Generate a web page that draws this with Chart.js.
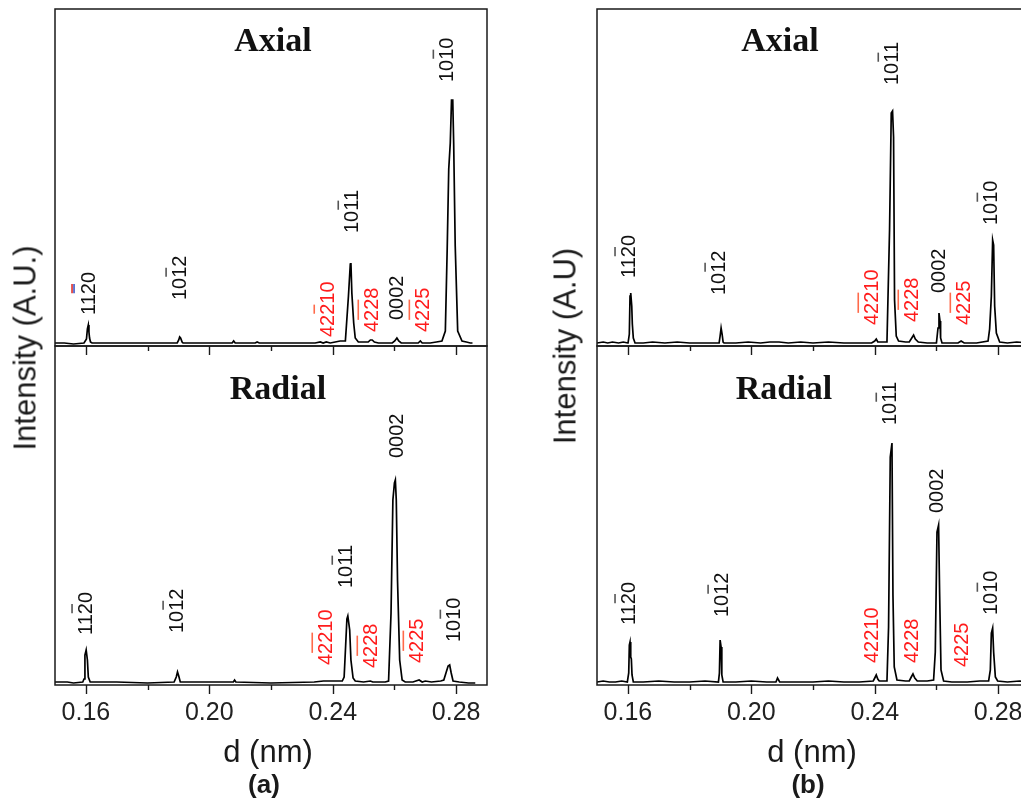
<!DOCTYPE html>
<html>
<head>
<meta charset="utf-8">
<title>XRD patterns – axial and radial</title>
<script src="https://cdn.jsdelivr.net/npm/chart.js@4.4.1/dist/chart.umd.min.js"></script>
<style>
  html, body { margin: 0; padding: 0; background: #fff; }
  #fig { position: relative; width: 1021px; height: 804px; overflow: hidden; background: #fff; }
  canvas { position: absolute; top: 0; }
  .t { position: absolute; white-space: nowrap; line-height: 1; color: #1a1a1a;
       transform: translate(-50%, -50%); font-family: "Liberation Sans", Arial, sans-serif; }
  .panelTitle { font-family: "Liberation Serif", "Times New Roman", serif; font-weight: bold;
                font-size: 34px; color: #111; }
  .ytitle { font-size: 31px; transform: translate(-50%, -50%) rotate(-90deg); }
  .xtitle { font-size: 31px; }
  .tag { font-size: 26px; font-weight: bold; }
</style>
</head>
<body>
<div id="fig">
  <canvas id="aAxial"  width="510" height="804" style="left:0px;width:510px;height:804px"></canvas>
  <canvas id="aRadial" width="510" height="804" style="left:0px;width:510px;height:804px"></canvas>
  <canvas id="bAxial"  width="530" height="804" style="left:520px;width:530px;height:804px"></canvas>
  <canvas id="bRadial" width="530" height="804" style="left:520px;width:530px;height:804px"></canvas>

  <div class="t panelTitle" style="left:273px;top:40px">Axial</div>
  <div class="t panelTitle" style="left:278px;top:388px">Radial</div>
  <div class="t panelTitle" style="left:780px;top:40px">Axial</div>
  <div class="t panelTitle" style="left:784px;top:388px">Radial</div>

  <div class="t ytitle" style="left:25px;top:348px">Intensity (A.U.)</div>
  <div class="t ytitle" style="left:565px;top:346px">Intensity (A.U)</div>

  <div class="t xtitle" style="left:268px;top:751px">d (nm)</div>
  <div class="t xtitle" style="left:812px;top:751px">d (nm)</div>

  <div class="t tag" style="left:264px;top:784px">(a)</div>
  <div class="t tag" style="left:808px;top:784px">(b)</div>
</div>

<script>
// d-spacing axis
const X_MIN = 0.15, X_MAX = 0.29;
const xTickValues = [0.16, 0.18, 0.20, 0.22, 0.24, 0.26, 0.28];
const xTickLabels = ['0.16', '', '0.20', '', '0.24', '', '0.28'];

// diffraction profiles: [d (nm), intensity (arb. units)]
const axialA = [
  [0.1500,3],[0.1530,3],[0.1560,2],[0.1594,3],[0.1602,7],[0.1605,17],[0.1608,21],[0.1610,14],
  [0.1612,8],[0.1615,4],[0.1620,3],[0.1680,3],[0.1776,3],[0.1896,3],[0.1901,6],[0.1904,9],
  [0.1907,8],[0.1912,4],[0.1915,3],[0.1970,3],[0.2074,3],[0.2079,5],[0.2084,3],[0.2149,3],
  [0.2155,4],[0.2162,3],[0.2262,3],[0.2343,3],[0.2360,4],[0.2369,3],[0.2379,4],[0.2392,3],
  [0.2408,4],[0.2424,5],[0.2441,5],[0.2451,50],[0.2457,82],[0.2459,83],[0.2462,53],[0.2468,23],
  [0.2473,8],[0.2483,4],[0.2496,4],[0.2515,4],[0.2522,6],[0.2528,6],[0.2535,4],[0.2548,3],
  [0.2570,3],[0.2593,3],[0.2601,5],[0.2608,8],[0.2614,5],[0.2622,3],[0.2652,3],[0.2677,3],
  [0.2684,5],[0.2690,3],[0.2716,3],[0.2736,4],[0.2754,5],[0.2765,15],[0.2771,97],[0.2776,177],
  [0.2781,203],[0.2785,246],[0.2789,246],[0.2792,203],[0.2797,100],[0.2805,15],[0.2819,5],
  [0.2833,4],[0.2846,3],[0.2853,3]
];

const radialA = [
  [0.1500,3],[0.1540,3],[0.1560,2],[0.1590,3],[0.1594,6],[0.1597,30],[0.1601,35],[0.1605,25],
  [0.1608,8],[0.1614,3],[0.1700,3],[0.1800,2],[0.1886,3],[0.1893,8],[0.1897,13],[0.1901,9],
  [0.1906,3],[0.1980,3],[0.2078,3],[0.2082,5],[0.2086,3],[0.2200,2],[0.2340,3],[0.2370,4],
  [0.2395,4],[0.2410,4],[0.2431,4],[0.2437,8],[0.2442,40],[0.2446,66],[0.2449,69],[0.2455,55],
  [0.2459,25],[0.2466,7],[0.2473,4],[0.2500,3],[0.2522,4],[0.2530,3],[0.2570,3],[0.2581,4],
  [0.2589,72],[0.2595,185],[0.2600,202],[0.2603,205],[0.2606,185],[0.2610,105],[0.2617,25],
  [0.2625,5],[0.2635,3],[0.2660,3],[0.2680,5],[0.2690,3],[0.2700,4],[0.2720,3],[0.2750,4],
  [0.2760,5],[0.2767,12],[0.2774,19],[0.2779,20],[0.2784,12],[0.2790,4],[0.2810,3],[0.2840,2],
  [0.2862,2]
];

const axialB = [
  [0.1500,3],[0.1520,4],[0.1535,3],[0.1550,4],[0.1570,3],[0.1585,4],[0.1600,3],[0.16006,3],
  [0.16048,12],[0.16070,50],[0.16093,53],[0.16126,40],[0.16145,22],[0.16177,8],[0.16233,3],
  [0.1650,3],[0.1680,4],[0.1720,3],[0.1760,4],[0.1800,3],[0.1850,3],[0.18957,3],[0.18990,10],
  [0.19022,18],[0.19054,12],[0.19087,4],[0.19119,3],[0.1950,3],[0.1990,4],[0.2030,3],[0.2060,4],
  [0.2090,4],[0.2120,3],[0.2160,4],[0.2200,3],[0.2250,4],[0.2300,3],[0.2350,3],[0.2390,3],
  [0.2400,5],[0.2405,7],[0.2410,4],[0.24397,4],[0.24481,116],[0.24536,233],[0.24578,235],
  [0.24611,209],[0.24643,46],[0.24698,10],[0.24773,5],[0.2500,4],[0.25120,4],[0.25201,8],
  [0.25260,11],[0.25315,7],[0.25412,4],[0.2570,3],[0.2600,3],[0.26018,3],[0.26051,18],
  [0.26083,33],[0.26116,25],[0.26135,8],[0.26181,3],[0.2650,3],[0.2670,3],[0.2680,5],[0.2690,3],
  [0.2730,3],[0.27673,5],[0.27724,17],[0.27780,50],[0.27822,106],[0.27854,101],[0.27887,40],
  [0.27942,13],[0.28049,4],[0.2830,3],[0.2860,4],[0.2900,3]
];

const radialB = [
  [0.1500,3],[0.1520,4],[0.1540,3],[0.1560,3],[0.1580,4],[0.15983,3],[0.16028,12],[0.16048,40],
  [0.16070,43],[0.16093,28],[0.16113,26],[0.16135,10],[0.16177,3],[0.1650,3],[0.1700,4],
  [0.1750,3],[0.1800,3],[0.1850,4],[0.18935,3],[0.18967,12],[0.18990,45],[0.19022,38],
  [0.19045,10],[0.19087,3],[0.1950,3],[0.2000,4],[0.2050,3],[0.2080,3],[0.2085,7],[0.2092,3],
  [0.2150,3],[0.2200,3],[0.2250,4],[0.2300,3],[0.2350,3],[0.23953,4],[0.24018,8],[0.24050,10],
  [0.24099,6],[0.24147,4],[0.24397,4],[0.24449,58],[0.24504,228],[0.24559,242],[0.24591,90],
  [0.24633,18],[0.24721,5],[0.2500,4],[0.25120,4],[0.25185,8],[0.25240,11],[0.25298,7],
  [0.25379,4],[0.2570,4],[0.25908,5],[0.25963,33],[0.26018,153],[0.26070,160],[0.26103,93],
  [0.26148,15],[0.26233,4],[0.2650,3],[0.2700,3],[0.2740,4],[0.27692,4],[0.27747,15],
  [0.27780,52],[0.27822,57],[0.27854,33],[0.27910,8],[0.27984,4],[0.2830,3],[0.2870,4],[0.2900,3]
];

// reflection labels: text, d position, start height, colour, overbar span
const INK = '#111', RED = '#ff1c1c';
const hklAxialA = [
  { text: '1120',  d: 0.16103, y: 31,  color: INK, bar: [2, 3], barShift: -17, barColors: ['#e0302a', '#3a55c8'] },
  { text: '1012',  d: 0.19054, y: 46,  color: INK, bar: [2, 3] },
  { text: '42210', d: 0.23855, y: 9,   color: RED, bar: [2, 3] },
  { text: '1011',  d: 0.24633, y: 113, color: INK, bar: [2, 3] },
  { text: '4228',  d: 0.25282, y: 14,  color: RED, bar: [1, 3] },
  { text: '0002',  d: 0.26093, y: 26,  color: INK },
  { text: '4225',  d: 0.26937, y: 14,  color: RED, bar: [1, 3] },
  { text: '1010',  d: 0.27715, y: 264, color: INK, bar: [2, 3] }
];
const hklRadialA = [
  { text: '1120',  d: 0.16006, y: 50,  color: INK, bar: [2, 3] },
  { text: '1012',  d: 0.18957, y: 52,  color: INK, bar: [2, 3] },
  { text: '42210', d: 0.23790, y: 20,  color: RED, bar: [1, 3] },
  { text: '1011',  d: 0.24439, y: 97,  color: INK, bar: [2, 3] },
  { text: '4228',  d: 0.25250, y: 17,  color: RED, bar: [1, 3] },
  { text: '0002',  d: 0.26093, y: 227, color: INK },
  { text: '4225',  d: 0.26742, y: 22,  color: RED, bar: [1, 3] },
  { text: '1010',  d: 0.27942, y: 43,  color: INK, bar: [2, 3] }
];
const hklAxialB = [
  { text: '1120',  d: 0.16038, y: 68,  color: INK, bar: [2, 3] },
  { text: '1012',  d: 0.18957, y: 51,  color: INK, bar: [2, 3] },
  { text: '42210', d: 0.23920, y: 21,  color: RED, bar: [1, 3] },
  { text: '1011',  d: 0.24569, y: 261, color: INK, bar: [2, 3] },
  { text: '4228',  d: 0.25217, y: 24,  color: RED, bar: [1, 3] },
  { text: '0002',  d: 0.26093, y: 53,  color: INK },
  { text: '4225',  d: 0.26904, y: 21,  color: RED, bar: [1, 3] },
  { text: '1010',  d: 0.27780, y: 121, color: INK, bar: [2, 3] }
];
const hklRadialB = [
  { text: '1120',  d: 0.16038, y: 60,  color: INK, bar: [2, 3] },
  { text: '1012',  d: 0.19054, y: 68,  color: INK, bar: [2, 3] },
  { text: '42210', d: 0.23920, y: 22,  color: RED },
  { text: '1011',  d: 0.24504, y: 260, color: INK, bar: [2, 3] },
  { text: '4228',  d: 0.25217, y: 22,  color: RED },
  { text: '0002',  d: 0.26028, y: 172, color: INK },
  { text: '4225',  d: 0.26839, y: 18,  color: RED },
  { text: '1010',  d: 0.27780, y: 70,  color: INK, bar: [2, 3] }
];

// frame, outward tick marks and rotated reflection labels
const peakFrame = {
  id: 'peakFrame',
  afterDatasetsDraw(chart, args, opts) {
    const { ctx, chartArea: a, scales: { x, y } } = chart;
    ctx.save();
    ctx.strokeStyle = '#1a1a1a';
    ctx.lineWidth = 1.5;
    ctx.strokeRect(a.left, a.top, a.right - a.left, a.bottom - a.top);
    ctx.lineWidth = 1.4;
    xTickValues.forEach((v, i) => {
      const px = Math.round(x.getPixelForValue(v)) + 0.5;
      const len = xTickLabels[i] ? 9 : 5;
      ctx.beginPath();
      ctx.moveTo(px, a.bottom);
      ctx.lineTo(px, a.bottom + len);
      ctx.stroke();
    });

    ctx.font = '20px "Liberation Sans", Arial, sans-serif';
    ctx.textAlign = 'left';
    ctx.textBaseline = 'middle';
    (opts.labels || []).forEach(l => {
      const px = x.getPixelForValue(l.d);
      const py = y.getPixelForValue(l.y);
      ctx.save();
      ctx.translate(px, py);
      ctx.rotate(-Math.PI / 2);
      ctx.fillStyle = l.color;
      ctx.fillText(l.text, 0, 0);
      if (l.bar) {
        const s = ctx.measureText(l.text.slice(0, l.bar[0])).width + 1;
        const e = ctx.measureText(l.text.slice(0, l.bar[1])).width - 1;
        const shift = l.barShift || -14;
        const cols = l.barColors || [l.color === RED ? '#ff6a4a' : '#555'];
        ctx.lineWidth = 1.6;
        cols.forEach((c, k) => {
          ctx.strokeStyle = c;
          ctx.beginPath();
          ctx.moveTo(s, shift + k * 2);
          ctx.lineTo(e, shift + k * 2);
          ctx.stroke();
        });
      }
      ctx.restore();
    });
    ctx.restore();
  }
};

function makePattern(id, points, labels, yMax, pad, axisHeight, showLabels) {
  return new Chart(document.getElementById(id), {
    type: 'line',
    data: {
      datasets: [{
        data: points.map(p => ({ x: p[0], y: p[1] })),
        borderColor: '#000',
        borderWidth: 1.7,
        pointRadius: 0,
        tension: 0,
        fill: false
      }]
    },
    options: {
      responsive: false,
      animation: false,
      devicePixelRatio: 1,
      layout: { padding: pad },
      plugins: { legend: { display: false }, tooltip: { enabled: false }, peakFrame: { labels } },
      scales: {
        x: {
          type: 'linear', min: X_MIN, max: X_MAX, position: 'bottom',
          afterBuildTicks: s => { s.ticks = xTickValues.map(v => ({ value: v })); },
          afterFit: s => { s.height = axisHeight; },
          grid: { display: false, drawTicks: false },
          border: { display: false },
          ticks: {
            display: showLabels, autoSkip: false, maxRotation: 0, minRotation: 0,
            padding: 13, color: '#222',
            font: { family: '"Liberation Sans", Arial, sans-serif', size: 25 },
            callback: (v, i) => xTickLabels[i]
          }
        },
        y: { display: false, min: 0, max: yMax }
      }
    },
    plugins: [peakFrame]
  });
}

makePattern('aAxial',  axialA,  hklAxialA,  337, { left: 55, right: 23, top: 9,   bottom: 458 }, 0,   false);
makePattern('aRadial', radialA, hklRadialA, 339, { left: 55, right: 23, top: 346, bottom: 0 },   119, true);
makePattern('bAxial',  axialB,  hklAxialB,  337, { left: 77, right: 21, top: 9,   bottom: 458 }, 0,   false);
makePattern('bRadial', radialB, hklRadialB, 339, { left: 77, right: 21, top: 346, bottom: 0 },   119, true);
</script>
</body>
</html>
